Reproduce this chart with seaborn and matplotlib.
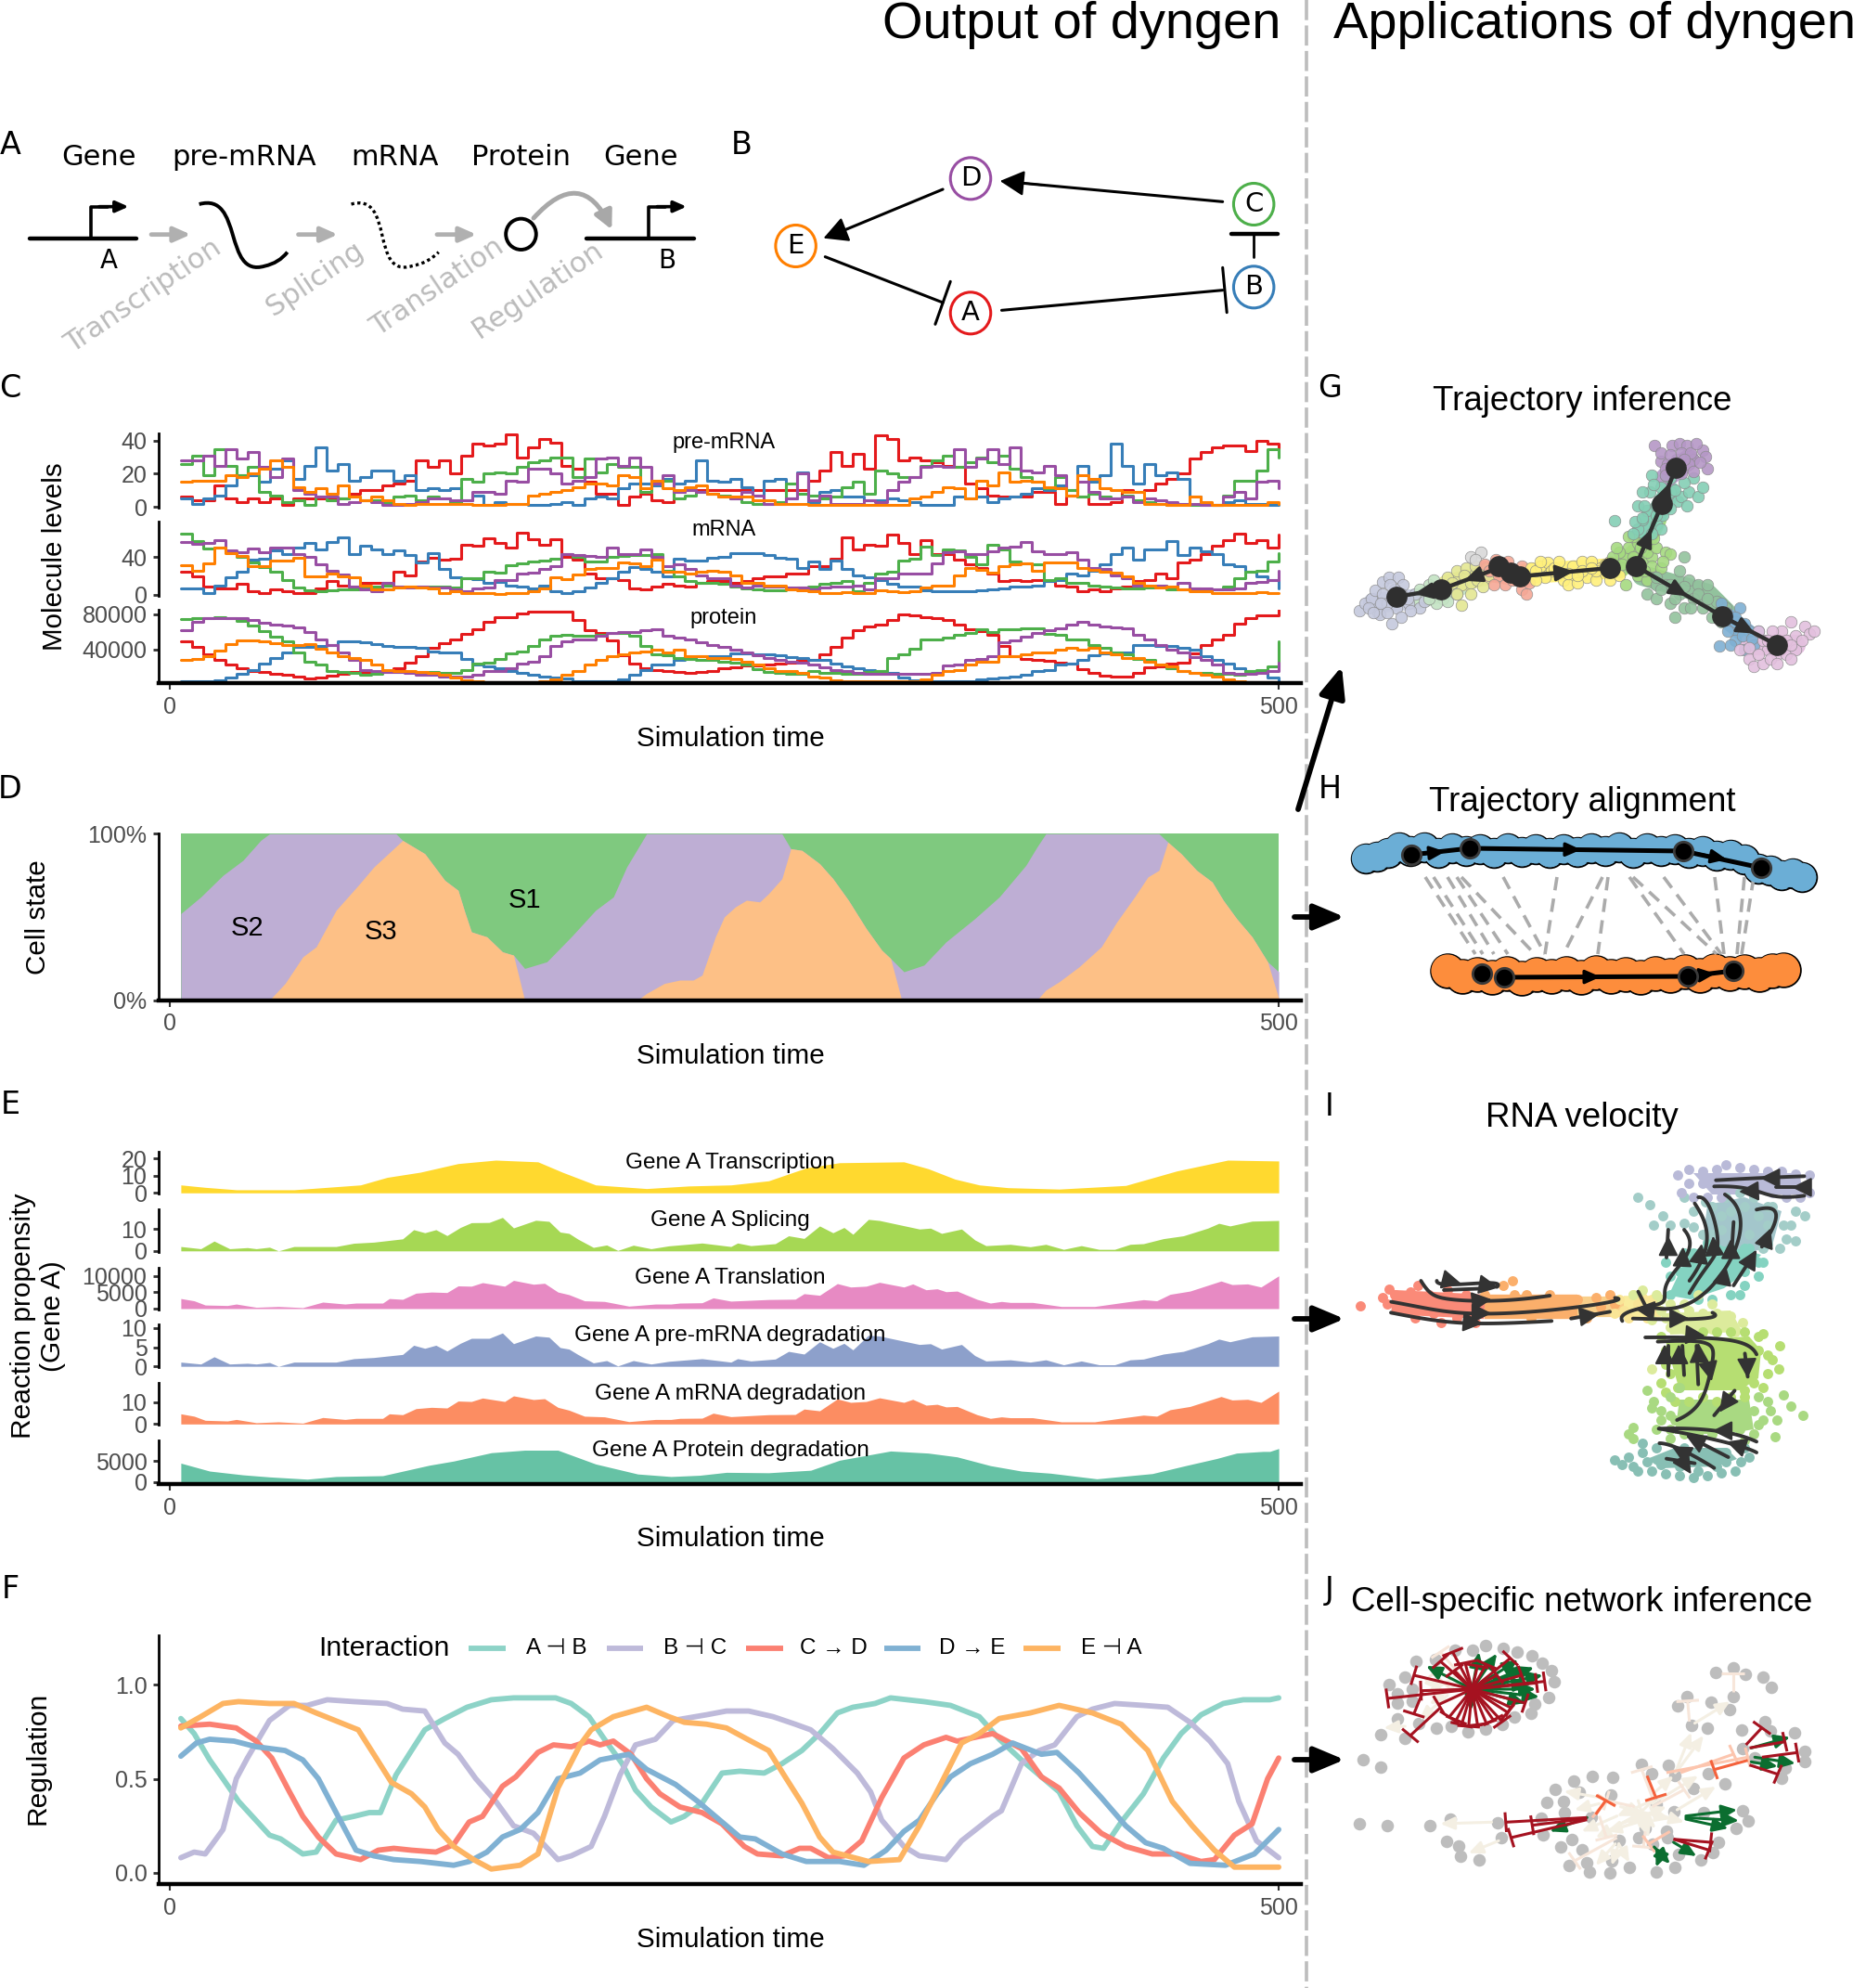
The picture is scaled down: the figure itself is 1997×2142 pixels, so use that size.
#!/usr/bin/env python3
"""Overview figure of dyngen: schematic, simulation traces and applications"""

import numpy as np
import pandas as pd
import matplotlib
matplotlib.use("Agg")
import matplotlib.pyplot as plt
from matplotlib.patches import Ellipse, PathPatch
from matplotlib.path import Path as MPath
import seaborn as sns

W, H = 1997, 2142

# ---- panel C, one value per 5 time units, gene A..E
premrna_a = [6,4,4,13,5,3,5,3,5,1,5,5,5,5,5,8,10,10,13,14,16,28,24,28,20,31,38,37,38,44,30,36,41,39,25,23,15,8,8,1,6,8,4,3,
             9,10,10,10,10,10,10,10,10,10,10,10,16,22,33,25,32,23,43,41,28,30,28,27,25,24,14,11,7,6,6,6,9,9,2,7,6,2,2,3,10,9,10,14,17,20,29,33,36,37,37,34,40,38,35]
premrna_b = [5,2,5,7,13,19,19,15,23,28,17,25,36,22,26,16,18,22,22,16,19,10,11,10,11,4,7,1,3,2,2,1,1,2,3,1,5,6,5,11,14,14,13,17,
             14,16,28,16,15,17,12,7,16,17,5,21,3,9,10,6,6,4,4,5,4,3,1,1,1,6,5,6,3,5,6,8,11,10,13,10,25,15,19,38,25,14,26,19,21,17,6,1,1,3,4,2,2,1,2]
premrna_c = [26,31,19,35,25,19,24,9,7,3,4,1,6,4,5,6,4,4,3,6,7,4,6,5,3,17,15,20,21,20,24,27,28,30,30,18,29,21,26,24,24,9,16,16,
             5,7,9,8,7,5,3,2,2,3,14,8,7,5,6,12,15,8,22,20,18,18,25,28,31,24,27,30,27,31,23,18,15,11,18,10,6,8,6,5,7,4,3,2,1,2,1,2,1,7,16,16,22,35,30]
premrna_d = [28,28,31,25,35,29,33,24,18,29,10,8,6,6,2,3,4,3,1,1,2,3,5,5,4,4,9,9,8,16,15,23,23,20,14,16,18,29,30,25,30,24,14,19,
             9,10,9,8,6,5,9,7,2,2,5,20,4,7,2,2,2,4,3,10,15,18,24,25,24,35,24,29,35,26,36,22,21,25,19,7,15,9,5,5,6,3,5,4,3,2,2,1,1,6,9,5,15,16,11]
premrna_e = [15,16,16,16,19,18,20,23,28,24,12,9,11,8,13,6,4,6,4,2,1,2,2,2,2,2,1,1,1,2,2,7,8,9,10,12,14,14,13,19,18,11,16,11,
             10,12,13,8,6,6,6,4,4,2,2,2,1,1,1,1,1,1,1,1,1,5,6,9,12,11,5,16,13,21,15,16,15,12,11,7,19,17,11,10,9,9,2,2,1,1,6,3,1,1,1,1,1,3,2]

mrna_a = [24,19,9,7,7,11,4,2,6,4,2,2,7,14,10,9,12,12,12,24,20,35,39,37,38,53,52,60,55,50,66,59,53,59,40,37,22,17,17,15,7,6,9,11,
          10,9,12,14,14,12,14,17,19,19,22,22,30,30,38,61,48,53,52,64,55,43,58,43,43,37,32,28,22,14,15,14,15,14,10,9,4,6,4,7,9,14,15,22,17,34,37,43,52,58,65,55,58,50,64]
mrna_b = [7,7,2,10,18,24,37,38,47,43,50,55,48,56,61,43,52,48,43,47,42,34,44,27,18,17,16,12,13,10,9,7,10,4,2,4,8,12,17,24,29,27,24,19,
          38,36,36,39,40,44,44,44,42,39,38,28,35,27,36,27,20,18,15,11,9,9,5,4,4,4,4,5,6,7,9,9,10,14,15,22,20,25,32,43,50,37,48,48,57,42,50,46,43,32,30,24,19,15,7]
mrna_c = [65,57,49,50,45,40,34,29,24,15,8,5,4,5,6,6,7,9,10,9,9,9,9,9,8,17,17,24,23,31,33,35,36,38,43,40,35,35,40,41,42,42,43,25,
          19,14,12,12,11,9,7,6,5,5,6,8,9,11,12,14,4,12,22,24,36,38,51,42,48,47,40,32,53,48,35,33,32,15,17,12,12,10,9,8,7,7,8,10,6,6,7,4,6,9,17,24,25,35,44]
mrna_d = [56,54,55,58,47,45,49,45,50,50,43,40,32,25,21,9,6,4,12,9,8,9,8,8,6,4,7,8,15,15,22,23,27,30,43,42,41,40,50,43,43,48,40,30,
          32,27,20,17,17,10,8,10,9,9,8,8,6,8,9,9,10,6,17,17,22,22,22,33,45,46,43,43,46,50,51,56,46,43,43,45,37,28,27,20,17,10,10,10,9,12,7,7,6,6,7,12,13,15,25]
mrna_e = [31,25,33,50,44,41,30,30,36,36,39,19,19,22,19,18,10,6,6,8,9,8,7,2,4,2,2,2,1,2,2,4,7,18,16,21,27,28,28,34,33,30,37,24,
          24,22,24,25,24,20,12,12,10,10,6,5,4,2,2,3,2,2,5,4,3,4,8,10,10,20,28,26,23,30,32,33,25,34,34,34,28,26,24,23,19,12,10,8,9,6,4,4,2,2,2,2,3,2,2]

# protein levels, in thousands
protein_a = [49,43,35,28,23,19,16,15,13,12,10,8,9,11,13,15,14,14,15,19,25,33,42,47,52,58,63,71,77,77,81,83,83,83,83,73,62,59,50,34,24,19,17,16,
             15,14,15,16,19,20,22,22,23,24,25,28,29,35,43,54,62,66,68,73,80,79,77,76,73,68,63,61,57,44,33,30,28,27,25,24,18,14,11,10,10,14,20,21,24,25,36,45,52,57,69,75,79,79,85]
protein_b = [5,5,5,6,9,13,17,24,31,37,43,43,44,45,49,49,48,46,44,43,43,42,38,37,37,30,23,21,19,16,14,12,10,9,8,5,5,5,5,7,12,17,23,23,
             28,30,33,33,33,36,36,35,35,34,32,31,29,28,24,21,19,17,16,14,9,6,6,5,5,5,5,7,8,9,10,12,16,17,23,24,29,34,36,37,37,45,45,44,44,42,40,33,28,24,19,16,15,9,5]
protein_c = [74,76,76,77,75,72,67,61,55,49,37,26,23,16,15,14,12,13,16,15,15,15,15,14,14,17,24,25,30,36,38,44,52,56,57,56,56,57,59,59,56,44,35,34,
             31,30,29,29,26,25,23,18,15,14,13,13,16,14,14,13,13,15,16,31,35,41,52,52,54,57,59,63,60,63,63,64,64,58,57,52,52,45,42,37,35,30,28,23,19,16,14,14,13,13,12,16,17,21,49]
protein_d = [62,71,75,75,75,75,73,70,68,67,65,60,52,45,37,28,17,16,15,15,14,12,12,10,10,10,12,16,16,19,24,26,33,44,49,52,52,56,59,60,60,62,63,56,
             54,52,48,45,43,40,37,34,31,29,26,25,23,20,17,16,14,13,13,13,13,13,13,14,22,23,28,30,33,48,50,55,59,62,64,68,71,68,66,65,64,57,52,45,40,37,32,28,23,14,13,13,14,16,25]
protein_e = [28,30,33,39,46,50,50,49,47,45,45,46,41,37,33,31,28,23,17,16,16,15,14,12,9,6,5,3,3,3,3,3,5,7,12,16,23,28,33,35,37,38,40,37,
             40,33,33,31,31,30,26,23,19,16,16,14,10,9,6,5,4,4,4,4,4,5,7,12,16,17,23,26,26,33,33,35,37,37,40,42,40,42,37,35,31,31,26,23,21,16,14,12,10,7,5,3,3,3,3]

gene_names = ["A", "B", "C", "D", "E"]
gene_colors = sns.color_palette("Set1", 5)

# ---- panel D, upper edge of each stacked state in percent
s3_t = [5,45,52,60,66,75,85,92,105,115,124,130,133,136,143,150,155,160,211,215,223,230,236,240,246,250,255,260,266,270,276,280,285,293,299,306,314,321,325,330,391,395,401,410,420,427,435,441,446,450,456,463,470,475,481,488,495,500]
s3_v = [0,0,10,26,32,54,69,80,96,88,72,66,53,41,38,29,27,0,0,4,10,12,12,15,38,50,56,60,59,64,73,91,90,82,73,60,43,30,25,0,0,6,11,20,32,47,62,74,78,95,88,78,71,60,49,38,23,1]
s2_t = [5,14,24,33,41,45,102,105,115,124,130,133,136,143,150,155,160,170,181,192,200,206,215,276,280,285,293,299,306,314,321,325,331,340,350,363,374,386,391,395,446,450,456,463,470,475,481,488,495,500]
s2_v = [52,62,75,84,96,100,100,96,88,72,66,53,41,38,29,27,19,23,38,54,62,80,100,100,91,90,82,73,60,43,30,25,17,21,35,49,62,81,92,100,100,95,88,78,71,60,49,38,23,17]
state_names = ["S1", "S2", "S3"]
state_colors = sns.color_palette("Accent", 3)

# ---- panel E, reaction propensities of gene A
transcription_t = [5,16,30,56,86,98,113,130,147,166,177,192,215,234,253,270,287,302,331,342,354,365,378,401,431,454,477,500]
transcription_v = [4.6,3.2,1.8,1.8,4.6,9,12,17,19,18,12,4.6,2.5,4,4.6,7,14.5,17.5,18,14,8,4.6,3,2.2,4.3,12.7,19,18.5]
splicing_t = [5,14,20,27,35,39,45,49,56,75,83,92,105,110,115,120,125,131,136,144,150,155,165,171,176,180,184,191,197,202,209,217,225,
              240,253,256,262,273,279,286,293,299,304,308,315,320,338,343,348,357,363,368,379,388,395,403,411,419,426,433,439,448,457,468,473,478,488,500]
splicing_v = [2,1,4.5,1,1.5,1,1.7,0,2,2,3.5,4,5.5,9.7,8.3,9.7,7,10.7,12.9,13,15.3,10.5,14,13.5,8.6,8,5.4,1.6,2.7,0.2,2.6,1,2.3,
              3.6,2,3.6,2.4,3.3,6.9,5.7,11.4,8.3,10.7,7.6,14.4,13.9,10,10.4,8,10,5,2.4,3,1.9,3,0.7,2.4,0.7,0.7,3,3.3,5.6,6.9,10.4,12.6,11.4,13.6,13.9]
translation_t = [5,11,16,26,30,39,49,60,69,79,84,96,99,105,111,118,125,130,136,141,151,155,164,169,175,180,187,196,207,219,226,230,240,245,253,270,282,286,293,301,307,314,320,331,335,341,346,350,355,364,370,375,379,389,402,417,431,439,445,451,460,474,479,486,492,500]
translation_v = [3100,2400,1100,950,1400,400,650,300,2000,1400,1700,1700,3100,2850,4750,5100,4950,7000,6900,8000,6900,8700,7500,7800,5100,4300,2400,2200,760,1400,1400,1700,1800,3300,2300,2800,2900,4600,4100,7700,6650,6900,8100,6650,7600,5800,6100,5200,5400,2850,1700,2200,1900,1900,650,650,2000,2750,2400,4400,5400,8500,7400,7600,6650,10100]
predeg_t = splicing_t
predeg_v = [1.1,0.6,2.5,0.6,0.8,0.6,1,0,1.1,1.1,2,2.3,3.1,5.5,4.7,5.5,4,6,7.3,7.3,8.7,5.9,7.9,7.6,4.9,4.5,3.1,0.9,1.5,0.1,1.5,0.6,1.3,
            2,1.1,2,1.4,1.9,3.9,3.2,6.4,4.7,6,4.3,8.1,7.9,5.7,5.9,4.5,5.7,2.8,1.4,1.7,1.1,1.7,0.4,1.4,0.4,0.4,1.7,1.9,3.2,3.9,5.9,7.1,6.4,7.7,7.9]
mrnadeg_t = translation_t
mrnadeg_v = [4.7,3.6,1.7,1.4,2.1,0.6,1,0.4,3,2.1,2.6,2.6,4.7,4.3,7.1,7.7,7.4,10.6,10.4,12,10.4,13,11.3,11.7,7.7,6.4,3.6,3.3,1.1,2.1,2.1,2.6,2.7,5,3.4,4.3,4.4,6.9,6.1,11.6,10,10.4,12.1,10,11.4,8.7,9.1,7.9,8.1,4.3,2.6,3.3,2.9,2.9,1,1,3,4.1,3.6,6.6,8.1,12.7,11.1,11.4,10,15.2]
proteindeg_t = [5,18,33,45,62,75,96,117,128,145,160,175,192,211,226,239,251,270,289,302,325,342,355,370,384,397,418,443,458,472,481,493,496,500]
proteindeg_v = [4500,2600,1700,1200,670,1300,1500,4000,5000,7000,7600,7600,4300,1900,1300,1600,2300,2200,2800,5200,7400,6900,6000,3900,2600,2100,750,2000,3900,5600,6900,7300,7300,8000]
reaction_names = ["Gene A Transcription", "Gene A Splicing", "Gene A Translation",
                  "Gene A pre-mRNA degradation", "Gene A mRNA degradation", "Gene A Protein degradation"]

# ---- panel F, regulation of the five interactions
ab_t = [5,11,18,24,31,45,50,60,66,75,83,90,95,102,109,115,124,134,145,155,174,181,189,196,204,210,217,226,232,240,249,257,268,276,285,293,301,308,318,325,340,352,365,374,384,393,401,409,416,421,429,439,448,456,465,475,484,496,500]
ab_v = [.82,.74,.60,.50,.38,.20,.18,.10,.11,.28,.30,.32,.32,.52,.65,.76,.82,.88,.92,.93,.93,.90,.83,.71,.58,.44,.35,.27,.30,.37,.53,.54,.53,.58,.65,.74,.85,.88,.90,.93,.91,.89,.83,.71,.60,.51,.43,.25,.14,.13,.27,.42,.61,.74,.84,.90,.92,.92,.93]
bc_t = [5,11,16,24,30,35,45,54,62,71,83,98,105,115,124,130,138,147,155,164,175,181,190,196,203,210,219,227,242,251,261,272,282,289,299,310,316,321,331,338,350,357,371,375,384,392,399,409,416,426,439,450,460,469,477,482,490,500]
bc_v = [.08,.11,.10,.23,.50,.61,.81,.89,.89,.92,.91,.90,.87,.86,.69,.63,.50,.38,.25,.21,.07,.09,.14,.30,.52,.68,.71,.81,.84,.86,.86,.83,.79,.76,.66,.53,.43,.28,.14,.09,.07,.17,.30,.33,.58,.65,.68,.83,.87,.90,.89,.88,.80,.70,.58,.38,.17,.08]
cd_t = [5,18,30,39,46,54,60,67,75,86,94,101,109,120,128,135,141,150,156,166,173,181,189,194,200,208,215,221,230,240,249,259,265,276,284,289,297,304,312,321,331,340,350,355,371,384,393,401,410,420,431,443,454,465,471,480,488,495,500]
cd_v = [.78,.79,.77,.70,.61,.43,.30,.19,.10,.07,.12,.13,.12,.11,.15,.27,.30,.46,.51,.64,.68,.67,.70,.68,.70,.63,.50,.42,.35,.32,.26,.14,.10,.09,.13,.13,.08,.09,.17,.40,.61,.68,.72,.70,.74,.66,.51,.45,.32,.21,.14,.10,.10,.06,.07,.20,.26,.50,.61]
de_t = [5,12,18,29,39,52,60,67,75,84,92,101,113,128,135,143,150,158,166,175,185,194,207,215,228,238,249,257,264,276,287,302,313,323,331,338,346,352,361,371,380,393,400,410,420,431,440,448,460,476,489,500]
de_v = [.62,.69,.71,.70,.67,.65,.60,.50,.32,.12,.09,.07,.06,.04,.06,.11,.19,.23,.32,.50,.53,.60,.63,.55,.47,.38,.27,.19,.18,.10,.06,.06,.04,.12,.22,.28,.42,.51,.58,.63,.69,.63,.64,.53,.40,.25,.16,.13,.05,.04,.10,.23]
ea_t = [5,14,24,31,45,56,66,85,92,100,109,115,121,128,137,145,158,166,175,185,190,200,215,225,232,242,251,262,270,278,285,293,299,315,329,338,348,357,365,374,388,401,416,429,441,452,461,471,480,500]
ea_v = [.77,.83,.90,.91,.90,.90,.85,.76,.63,.48,.42,.35,.23,.14,.07,.02,.04,.10,.45,.68,.76,.83,.88,.83,.80,.79,.77,.70,.65,.50,.37,.19,.11,.06,.07,.25,.48,.69,.74,.82,.85,.89,.85,.79,.65,.38,.25,.12,.03,.03]
interaction_names = ["A \u22a3 B", "B \u22a3 C", "C \u2192 D", "D \u2192 E", "E \u22a3 A"]
interaction_colors = ["#8DD3C7", "#BEBADA", "#FB8072", "#80B1D3", "#FDB462"]

# ---- panel G, cells on the trajectory embedding
g_bands = [
    ("#C8CDE0", [1480,1530], [650,645]), ("#C8E6C8", [1530,1575], [645,630]), ("#E4E793", [1560,1600], [630,620]),
    ("#F5A896", [1600,1645], [615,622]), ("#FFF07C", [1645,1745], [618,612]), ("#A5DA80", [1745,1770,1785], [612,590,560]),
    ("#84CFB5", [1772,1800], [575,530]), ("#B9A0CC", [1795,1820], [515,495]), ("#92C29D", [1770,1840,1860], [620,640,660]),
    ("#7FB0D3", [1860,1885], [665,685]), ("#E3C0DE", [1885,1935], [695,695]),
]
g_cells = [
    ("#C5C9DD", [1465,1471,1478,1482,1490,1497,1507,1512,1503,1490,1485,1487,1500,1505,1518,1530,1535,1525,1517,1495,1475,1488,1498,1510,1520,1480,1495,1510],
                [658,650,645,636,627,622,622,630,635,640,660,662,672,655,650,655,648,640,645,650,655,650,630,640,658,660,660,665]),
    ("#C4E3C4", [1540,1545,1555,1530,1560,1570,1548,1540], [630,625,645,635,648,640,650,645]),
    ("#E4E793", [1560,1570,1580,1590,1575,1585,1575,1592,1598,1605,1565,1578,1590,1602,1570,1585],
                [622,615,612,618,630,628,652,625,632,620,628,620,610,612,640,640]),
    ("#D9D9D9", [1585,1596,1590], [600,595,603]),
    ("#F5A896", [1600,1612,1625,1615,1632,1640,1622,1640,1645,1630,1610,1605,1618,1632,1648,1625,1638],
                [608,603,605,620,615,610,630,635,640,625,630,615,612,622,628,615,622]),
    ("#FFF07C", [1650,1660,1668,1672,1665,1655,1680,1685,1690,1695,1705,1715,1725,1710,1720,1735,1745,1700,1730,1740,1655,1675,1690,1705,1720,1735,1660,1680,1700,1715,1735],
                [612,610,606,615,622,625,618,625,630,610,605,605,612,622,625,625,620,628,608,610,615,612,618,615,615,615,605,605,620,612,605]),
    ("#A5DA80", [1750,1755,1745,1760,1770,1765,1775,1780,1752,1780,1765,1760,1775,1785,1795,1800,1738,1748,1758,1772,1790,1742,1755,1768,1782,1792],
                [600,590,595,600,605,620,625,600,630,610,585,578,595,590,595,597,600,608,612,615,612,590,578,590,580,605]),
    ("#84CFB5", [1740,1765,1770,1775,1785,1790,1780,1792,1778,1785,1770,1765,1795,1800,1808,1812,1820,1830,1835,1825,1815,1790,1800,1780,1772,1785,1800,1790,1762,1805,1818,1795,1782,1770,1760],
                [561,570,560,550,565,570,575,555,530,545,530,545,535,530,540,535,530,535,525,515,520,525,515,512,545,555,548,540,562,528,545,512,522,558,575]),
    ("#B597C6", [1783,1790,1797,1807,1802,1810,1818,1825,1835,1838,1840,1820,1812,1795,1825,1790,1800,1812,1822,1832,1805,1815,1795,1828],
                [480,497,500,495,480,478,480,495,485,492,505,500,510,505,508,488,490,488,488,498,505,495,512,478]),
    ("#92C29D", [1775,1785,1795,1810,1820,1830,1840,1805,1815,1825,1835,1845,1800,1785,1815,1810,1785,1800,1815,1830,1850,1860,1790,1805,1822,1840,1855],
                [640,645,630,640,625,630,630,665,655,645,655,665,650,630,600,615,622,630,632,640,648,655,635,645,655,645,670]),
    ("#7FB0D3", [1855,1875,1862,1853,1870,1880,1885,1870,1890,1860,1870,1878,1888,1895,1865,1880],
                [650,655,680,696,670,672,680,690,695,660,665,685,688,680,695,700]),
    ("#E3C0DE", [1875,1885,1890,1900,1905,1915,1925,1935,1935,1920,1910,1945,1950,1955,1930,1900,1925,1885,1895,1908,1918,1930,1942,1895,1905,1915,1930],
                [700,710,718,715,700,705,705,700,685,680,680,675,683,680,670,690,690,698,705,710,695,695,690,680,690,715,710]),
]
g_nodes_x = [1505,1553,1615,1628,1638,1735,1763,1791,1806,1856,1915]
g_nodes_y = [643,635,610,617,621,612,610,543,504,664,695]
g_edges = [(1553,635,1505,643),(1615,612,1553,635),(1638,621,1735,612),(1763,610,1791,543),
           (1791,543,1806,504),(1763,610,1856,664),(1856,664,1915,695)]

# ---- panel H, two trajectories and their alignment
h_top_x = [1472,1484,1496,1508,1520,1535,1550,1565,1580,1595,1610,1625,1640,1655,1670,1685,1700,1715,1730,1745,1760,1775,1790,1805,1820,1835,1850,1865,1880,1895,1908,1920,1932,1942]
h_top_y = [925,923,919,913,917,913,919,914,917,915,919,914,918,915,919,915,918,914,917,913,919,914,917,915,919,917,922,921,926,936,938,943,941,945]
h_bot_x = [1560,1576,1592,1608,1624,1640,1656,1672,1688,1704,1720,1736,1752,1768,1784,1800,1816,1832,1848,1864,1880,1896,1910,1922]
h_bot_y = [1046,1052,1050,1053,1049,1054,1050,1052,1049,1053,1048,1052,1050,1053,1049,1051,1047,1051,1046,1049,1047,1050,1046,1045]
h_top_nodes_x = [1521,1584,1814,1898]
h_top_nodes_y = [921,914,917,935]
h_bot_nodes_x = [1597,1621,1819,1868]
h_bot_nodes_y = [1049,1053,1052,1046]
h_links = [(1536,1590),(1545,1598),(1560,1610),(1570,1625),(1575,1654),(1620,1665),(1678,1665),(1727,1685),
           (1733,1722),(1756,1815),(1760,1850),(1793,1855),(1848,1858),(1880,1872),(1890,1877)]

# ---- panel I, cells and velocity streams
i_bands = [
    ("#FA8A78", [1500,1600], [1403,1408], 19), ("#FBAF6B", [1600,1700], [1408,1408], 19),
    ("#F9CF8A", [1700,1750], [1408,1408], 16), ("#F9EC9C", [1750,1790], [1408,1408], 17),
]
i_patches = [
    ("#A3C6CB", [1835,1840,1880,1920,1910,1885,1845], [1340,1298,1290,1305,1342,1350,1345]),
    ("#84D3C1", [1800,1820,1842,1885,1898,1880,1858,1822,1800], [1392,1350,1340,1348,1352,1372,1388,1400,1396]),
    ("#B9BAD8", [1825,1940,1942,1845], [1264,1264,1287,1287]),
    ("#DCEB9C", [1795,1865,1878,1800], [1415,1412,1435,1438]),
    ("#B6DE72", [1795,1885,1898,1895,1875,1810], [1445,1440,1455,1485,1498,1498]),
    ("#A9D982", [1810,1885,1890,1860,1805], [1508,1508,1540,1545,1545]),
    ("#88BFB4", [1775,1805,1860,1872,1850,1790], [1572,1560,1560,1572,1580,1582]),
]
i_cells = [
    ("#FA8A78", [1466,1497,1490,1495,1503,1510,1520,1528,1530,1515,1525,1535,1540,1545,1553,1560,1565,1555,1570,1580,1585,1590],
                [1407,1389,1398,1405,1395,1400,1392,1385,1400,1410,1420,1408,1395,1415,1425,1390,1405,1400,1420,1395,1410,1425]),
    ("#FBAF6B", [1600,1610,1620,1630,1632,1640,1650,1645,1660,1670,1680,1690,1700,1710,1720,1725,1735,1740],
                [1395,1400,1385,1380,1395,1410,1420,1395,1400,1395,1410,1405,1400,1420,1398,1408,1395,1405]),
    ("#F9E596", [1745,1750,1755,1740,1760,1765,1770,1775,1780,1785], [1400,1412,1420,1415,1395,1405,1398,1420,1400,1412]),
    ("#A3CDC8", [1765,1778,1792,1782,1800,1815,1825,1835,1845,1855,1865,1880,1895,1905,1925,1922,1945,1935,1905,1900,1885,1870,1855,1845,1860,1875,1890,1905,1815,1825,1838,1935,1930,1918,1910],
                [1290,1298,1310,1320,1320,1318,1322,1330,1330,1325,1305,1300,1310,1320,1335,1320,1310,1337,1340,1345,1330,1320,1310,1300,1290,1285,1290,1300,1290,1305,1295,1305,1320,1345,1300]),
    ("#84D3C1", [1880,1865,1850,1840,1825,1810,1800,1795,1820,1835,1850,1865,1880,1895,1880,1865,1855,1840,1800,1810,1825,1815,1830,1885,1900,1895,1875,1845],
                [1345,1345,1345,1360,1365,1370,1375,1360,1385,1385,1380,1375,1370,1360,1385,1395,1360,1340,1395,1385,1350,1350,1400,1345,1360,1375,1395,1400]),
    ("#B9BAD8", [1808,1820,1835,1850,1860,1875,1890,1905,1920,1935,1950,1950,1940,1925,1910,1895,1880,1865,1850,1835,1820,1812,1825,1840,1855,1920,1935],
                [1266,1260,1262,1260,1255,1258,1260,1262,1262,1265,1266,1285,1290,1290,1285,1275,1275,1275,1275,1275,1275,1285,1290,1290,1290,1275,1275]),
    ("#DCEB9C", [1760,1770,1785,1790,1800,1815,1830,1845,1850,1835,1815,1795,1780,1780,1790,1805,1820,1835,1850,1865,1878,1800,1815,1830,1845,1860,1870],
                [1395,1390,1395,1400,1405,1405,1395,1405,1420,1425,1425,1420,1422,1475,1412,1415,1412,1415,1415,1418,1425,1430,1432,1430,1432,1428,1435]),
    ("#B6DE72", [1790,1805,1820,1835,1850,1865,1880,1895,1900,1918,1905,1917,1905,1885,1870,1855,1840,1825,1810,1800,1815,1830,1845,1860,1875,1890,1880,1865,1850,1835,1820,1805,1795,1885,1895,1910,1900,1880,1795,1790,1808,1795],
                [1440,1445,1440,1435,1435,1435,1435,1440,1437,1450,1460,1475,1480,1455,1460,1465,1460,1465,1470,1480,1490,1490,1490,1490,1480,1490,1505,1505,1510,1505,1510,1510,1455,1465,1455,1465,1495,1498,1470,1490,1495,1500]),
    ("#A9D982", [1775,1782,1780,1760,1755,1760,1800,1815,1830,1845,1860,1875,1890,1900,1908,1922,1930,1943,1913,1890,1875,1860,1845,1830,1815,1800,1785,1800,1810,1790,1895,1905,1915,1895,1805,1790,1800,1880],
                [1498,1510,1517,1538,1545,1550,1525,1520,1530,1530,1525,1520,1520,1530,1520,1503,1515,1525,1548,1545,1540,1540,1545,1545,1545,1540,1540,1505,1495,1520,1505,1510,1530,1535,1530,1530,1550,1552]),
    ("#88BFB4", [1740,1755,1770,1785,1775,1760,1748,1800,1815,1830,1845,1860,1875,1860,1876,1790,1810,1830,1850,1765,1780,1795,1810,1825,1840,1855,1870,1885,1880,1770],
                [1573,1570,1565,1560,1575,1580,1578,1570,1560,1575,1570,1565,1560,1575,1575,1578,1580,1585,1580,1585,1585,1588,1590,1592,1590,1587,1585,1570,1560,1555]),
]
i_streams = [
    ([260,400,520,700,850,895],[668,695,708,695,675,655]),
    ([260,400,530,715],[703,730,738,730]),
    ([345,380,430,530,710],[600,645,660,665,648]),
    ([390,440,530,560],[600,612,607,620]),
    ([410,520],[630,625]),
    ([770,880],[722,700]),
    ([1180,1300,1430],[275,268,262]),
    ([1175,1280,1340,1430],[295,305,325,325]),
    ([1350,1430],[298,298]),
    ([1130,1170,1185,1170,1105],[330,385,470,530,640]),
    ([1120,1150,1150,1105],[350,420,500,600]),
    ([1205,1245,1250,1220,1180,1140,1060,990],[320,380,450,520,600,660,682,685]),
    ([1230,1225],[410,500]),
    ([1295,1350,1310],[370,385,490]),
    ([1230,1290],[615,510]),
    ([1090,1090,1045,1035,1000],[435,530,600,650,680]),
    ([1045,1040],[435,525]),
    ([915,925,985],[730,705,685]),
    ([960,980],[635,680]),
    ([945,1140,1170],[722,722,703]),
    ([980,1150,1250,1295],[783,785,800,838]),
    ([1015,1150,1170,1165,1140,1070],[797,800,840,900,980,1050]),
    ([1045,1045],[905,810]),
    ([1090,1085],[905,810]),
    ([1130,1125],[935,810]),
    ([1262,1270],[835,910]),
    ([1233,1175],[955,1035]),
    ([1295,1180,1018],[1120,1085,1078]),
    ([1295,1200,1020],[1155,1120,1078]),
    ([1215,1130],[1170,1120]),
    ([1175,1080,1020],[1205,1145,1125]),
    ([1040,1120],[1175,1190]),
]
i_heads = [(490,735,520,738),(510,705,545,705),(510,665,545,660),(425,600,460,610),(530,615,565,622),(805,715,850,708),
           (1345,268,1305,268),(1285,310,1245,312),(1430,298,1395,298),(1175,500,1172,455),(1135,515,1140,480),(1200,595,1208,550),
           (1222,505,1222,465),(1320,475,1335,430),(1275,540,1295,500),(1085,540,1087,490),(1045,505,1045,455),(990,695,950,690),
           (1060,722,1105,722),(1110,775,1150,778),(1160,880,1168,925),(1035,855,1035,805),(1075,855,1075,805),(1132,850,1130,800),
           (1268,865,1270,915),(1215,985,1190,1025),(1215,1085,1170,1085),(1250,1135,1210,1120),(1130,1120,1095,1100),
           (1095,1160,1055,1135),(1085,1180,1110,1225)]

# ---- panel J, regulatory edges per cell
j_cells_x = [332,385,440,490,527,578,618,658,688,715,722,707,668,657,610,575,527,478,432,390,340,300,230,278,255,278,300,278,320,320,
             182,230,172,250,370,428,417,452,457,510,562,573,690,685,740,772,800,764,822,880,935,815,885,1012,1065,1137,1172,1187,1075,1042,
             1237,1270,1255,1145,1060,725,777,830,888,793,748,700,752,882,828,905,1010,970,998,1045,1065,1115,1157,1205,1255,1290,1253,1318,
             1335,1403,1432,1432,1375,1367,1110,1155,1072,1098,1165,1218,1228,1178,1228,1263,1312,1337,980,1040,1000,960,490]
j_cells_y = [330,325,295,295,280,287,300,312,335,360,395,447,467,497,510,535,548,558,540,547,530,580,568,515,405,435,380,465,420,460,
             648,672,855,862,862,840,912,928,960,972,853,900,890,838,930,905,938,990,1010,1015,997,980,975,1010,997,972,948,915,955,900,
             870,845,812,820,815,745,718,702,706,752,782,785,818,762,835,908,793,662,692,667,700,742,692,725,612,642,552,525,
             555,560,620,655,675,707,537,545,475,443,462,485,445,365,352,373,382,415,870,880,920,900,420]
j_pale_arrows = [(1065,690,1110,560),(1070,685,1145,570),(1120,530,1220,460),(545,850,400,855),(565,910,480,950),(895,920,840,990),
                 (905,920,885,990),(905,920,935,980),(1070,810,1180,735),(1000,790,1130,700),(850,770,750,750),(850,790,780,810),
                 (900,830,800,880),(950,830,840,900),(1000,760,1060,700),(300,540,240,545),(400,400,350,400),(960,850,870,880),
                 (1000,820,1090,850),(1000,780,900,830),(940,790,1010,870),(910,800,1050,840),(900,860,1040,800),(960,780,990,900),
                 (1010,770,930,860),(880,880,1000,830),(450,400,370,470),(420,440,340,520),(440,380,360,440)]
j_pale_bars = [(1228,430,1228,370),(1105,525,1100,458),(1000,770,970,680),(900,900,780,975),(1000,800,1090,745),(950,800,870,780),
               (980,880,975,930),(850,830,870,900),(430,420,380,370),(490,420,400,300)]
j_pink_bars = [(1080,690,1230,630),(1040,690,1270,640),(830,835,870,780),(1050,880,990,920)]
j_orange_bars = [(1270,650,1175,680),(840,825,868,780),(985,700,1010,770)]
j_red_bars = [(490,420,250,450),(490,420,345,425),(490,420,325,375),(490,420,400,330),(490,420,435,300),(490,420,470,335),(490,420,530,340),
              (490,420,598,320),(490,420,630,375),(490,420,695,395),(490,420,672,400),(490,420,640,465),(490,420,600,480),(490,420,575,525),
              (490,420,530,530),(490,420,480,540),(490,420,425,510),(490,420,395,470),(400,480,315,570),(350,430,325,500),
              (490,420,445,520),(490,420,460,535),(490,420,505,535),(490,420,550,520),(490,420,590,495),(490,420,440,360),(490,420,505,345),
              (490,420,560,375),(815,835,585,850),(815,838,660,860),(815,842,600,900),(1275,610,1375,590),(1310,640,1410,625),(1275,665,1355,695),
              (1265,600,1310,545),(1060,905,1165,915),(1060,905,1160,940)]
j_green_arrows = [(490,420,360,345),(490,420,510,300),(490,420,560,305),(490,420,620,325),(490,420,665,350),(490,420,690,375),
                  (490,420,680,445),(490,420,640,465),(490,420,485,490),(490,420,600,390),(490,420,650,400),(490,420,670,420),(490,420,640,350),
                  (815,835,710,880),(1280,610,1390,575),
                  (1280,655,1355,670),(1290,640,1405,660),(1095,830,1240,810),(1095,835,1245,845),(1095,840,1215,870),
                  (1060,915,1125,960),(1005,930,1050,985),(1030,940,1010,995)]

# ---- figure
sns.set_theme(style="ticks")
plt.rcParams["font.family"] = ["Liberation Sans", "DejaVu Sans"]
plt.rcParams["text.color"] = "black"
fig = plt.figure(figsize=(W / 100, H / 100), dpi=100, facecolor="white")

TICK_COLOR = "#4D4D4D"
TIME_LIM = (-5, 510)


def px_axes(top, bottom, left=171, right=1402):
    return fig.add_axes([left / W, 1 - bottom / H, (right - left) / W, (bottom - top) / H])


def sketch_axes(left, top, width, height, sx, sy):
    # axes measured in its own sketch units, no visible scale
    ax = fig.add_axes([left / W, 1 - (top + height) / H, width / W, height / H], zorder=6)
    ax.set_xlim(0, sx)
    ax.set_ylim(sy, 0)
    ax.set_axis_off()
    ax.patch.set_alpha(0)
    return ax


def style_axes(ax, yticks, ylabels=None, show_x=False):
    ax.set_xlim(*TIME_LIM)
    ax.set_yticks(yticks)
    ax.set_yticklabels(ylabels if ylabels else [str(v) for v in yticks])
    ax.set_xlabel("")
    ax.set_ylabel("")
    ax.patch.set_alpha(0)
    ax.tick_params(axis="y", labelsize=18, labelcolor=TICK_COLOR, color="#333333",
                   width=2, length=4.5, pad=4.5)
    sns.despine(ax=ax)
    ax.spines["left"].set_linewidth(2)
    ax.spines["left"].set_color("black")
    if show_x:
        ax.set_xticks([0, 500])
        ax.set_xticklabels(["0", "500"])
        ax.tick_params(axis="x", labelsize=18, labelcolor=TICK_COLOR, color="#333333",
                       width=1.5, length=5, pad=5)
        ax.spines["bottom"].set_linewidth(3.2)
        ax.spines["bottom"].set_color("black")
    else:
        ax.set_xticks([])
        ax.spines["bottom"].set_visible(False)


def draw_levels(ax, series):
    frames = []
    for name, values in zip(gene_names, series):
        frames.append(pd.DataFrame({"time": np.linspace(5, 500, len(values)), "level": values, "gene": name}))
    df = pd.concat(frames, ignore_index=True)
    sns.lineplot(data=df, x="time", y="level", hue="gene", hue_order=gene_names, palette=gene_colors,
                 estimator=None, sort=False, drawstyle="steps-post", linewidth=2.2, legend=False, ax=ax)


# panel C
ax_pre = px_axes(467, 547.5)
draw_levels(ax_pre, [premrna_a, premrna_b, premrna_c, premrna_d, premrna_e])
ax_pre.set_ylim(-0.8, 44.4)
style_axes(ax_pre, [0, 20, 40])

ax_mrna = px_axes(562, 642)
draw_levels(ax_mrna, [mrna_a, mrna_b, mrna_c, mrna_d, mrna_e])
ax_mrna.set_ylim(-1.3, 77.4)
style_axes(ax_mrna, [0, 40])

ax_prot = px_axes(657, 736)
draw_levels(ax_prot, [np.array(s) * 1000 for s in [protein_a, protein_b, protein_c, protein_d, protein_e]])
ax_prot.set_ylim(2400, 84900)
style_axes(ax_prot, [40000, 80000], show_x=True)

# panel D
ax_state = px_axes(898.3, 1077.5)
ax_state.fill_between([5, 500], 0, 100, color=state_colors[0], linewidth=0)
ax_state.fill_between(s2_t, 0, s2_v, color=state_colors[1], linewidth=0)
ax_state.fill_between(s3_t, 0, s3_v, color=state_colors[2], linewidth=0)
ax_state.set_ylim(0, 100)
style_axes(ax_state, [0, 100], ["0%", "100%"], show_x=True)
for name, t, v in zip(state_names, [160, 35, 95], [60, 43, 41]):
    ax_state.text(t, v, name, ha="center", va="center", fontsize=21, color="black")

# panel E
set2 = sns.color_palette("Set2", 6)
reaction_rows = [
    (1240.7, 1286, (-0.4, 24), [0, 10, 20], transcription_t, transcription_v, set2[5]),
    (1303, 1348.5, (-0.3, 19), [0, 10], splicing_t, splicing_v, set2[4]),
    (1365.7, 1411, (-300, 12660), [0, 5000, 10000], translation_t, translation_v, set2[3]),
    (1426.7, 1473, (-0.2, 11), [0, 5, 10], predeg_t, predeg_v, set2[2]),
    (1490, 1535, (-0.3, 19), [0, 10], mrnadeg_t, mrnadeg_v, set2[1]),
    (1551.7, 1599, (-500, 10000), [0, 5000], proteindeg_t, proteindeg_v, set2[0]),
]
for i, (top, bottom, ylim, ticks, xs, ys, col) in enumerate(reaction_rows):
    ax = px_axes(top, bottom)
    ax.fill_between(xs, 0, ys, color=col, linewidth=0)
    ax.set_ylim(*ylim)
    style_axes(ax, ticks, show_x=(i == 5))

# panel F
ax_reg = px_axes(1761.7, 2030)
reg_frames = []
for name, t, v in zip(interaction_names, [ab_t, bc_t, cd_t, de_t, ea_t], [ab_v, bc_v, cd_v, de_v, ea_v]):
    reg_frames.append(pd.DataFrame({"time": t, "regulation": v, "interaction": name}))
sns.lineplot(data=pd.concat(reg_frames, ignore_index=True), x="time", y="regulation", hue="interaction",
             hue_order=interaction_names, palette=interaction_colors, estimator=None, sort=False,
             linewidth=4.2, legend=False, ax=ax_reg)
ax_reg.set_ylim(-0.06, 1.264)
style_axes(ax_reg, [0, 0.5, 1.0], ["0.0", "0.5", "1.0"], show_x=True)

# overlay in figure pixels for labels and cartoons
ov = fig.add_axes([0, 0, 1, 1], zorder=5)
ov.patch.set_alpha(0)
ov.set_axis_off()


def arrow(ax, x0, y0, x1, y1, color="black", lw=3, scale=14, head=(0.9, 0.4), zorder=6):
    ax.annotate("", xy=(x1, y1), xytext=(x0, y0), zorder=zorder,
                arrowprops=dict(arrowstyle=f"-|>,head_length={head[0]},head_width={head[1]}", color=color,
                                lw=lw, mutation_scale=scale, shrinkA=0, shrinkB=0))


def tbar(ax, x0, y0, x1, y1, color, lw=2.2, half=32, zorder=4):
    ax.plot([x0, x1], [y0, y1], color=color, lw=lw, solid_capstyle="butt", zorder=zorder)
    dx, dy = x1 - x0, y1 - y0
    norm = np.hypot(dx, dy) or 1
    ax.plot([x1 - dy / norm * half, x1 + dy / norm * half], [y1 + dx / norm * half, y1 - dx / norm * half],
            color=color, lw=lw, solid_capstyle="butt", zorder=zorder)


# dashed separator
ov.plot([1408.5, 1408.5], [0, H], color="#BDBDBD", lw=2.6, dashes=(6, 1.6))

# titles, labels
ov.text(1380, 27, "Output of dyngen", ha="right", va="center", fontsize=40.3)
ov.text(1437, 27, "Applications of dyngen", ha="left", va="center", fontsize=40.3)
for letter, x, y in [("A", 11, 156), ("B", 799, 156), ("C", 11, 418), ("D", 11, 850), ("E", 11, 1191), ("F", 11, 1713),
                     ("G", 1433, 418), ("H", 1433, 850), ("I", 1433, 1192), ("J", 1433, 1713)]:
    ov.text(x, y, letter, ha="center", va="center", fontsize=24, family="DejaVu Sans")
for title, y in [("Trajectory inference", 432), ("Trajectory alignment", 864), ("RNA velocity", 1205),
                 ("Cell-specific network inference", 1726)]:
    ov.text(1705, y, title, ha="center", va="center", fontsize=26.4)
for y in [796, 1138, 1658, 2090]:
    ov.text(787, y, "Simulation time", ha="center", va="center", fontsize=21.3)
ov.text(59, 600, "Molecule levels", rotation=90, ha="center", va="center", fontsize=21.3)
ov.text(41, 988, "Cell state", rotation=90, ha="center", va="center", fontsize=21.3)
ov.text(41, 1894, "Regulation", rotation=90, ha="center", va="center", fontsize=21.5)
ov.text(41, 1418, "Reaction propensity\n(Gene A)", rotation=90, ha="center", va="center", fontsize=21.5, linespacing=1.2)
for label, y in [("pre-mRNA", 477), ("mRNA", 571), ("protein", 666)]:
    ov.text(780, y, label, ha="center", va="center", fontsize=17)
for label, y in zip(reaction_names, [1253, 1315, 1377, 1439, 1502, 1563]):
    ov.text(787, y, label, ha="center", va="center", fontsize=17.6)

# interaction legend
ov.text(343, 1776, "Interaction", ha="left", va="center", fontsize=21.8)
for label, color, k0, k1, lx in zip(interaction_names, interaction_colors,
                                    [505, 654, 804, 953, 1103], [545, 693, 844, 992, 1143],
                                    [600, 749, 898, 1048, 1198]):
    ov.plot([k0, k1], [1776, 1776], color=color, lw=4.2, solid_capstyle="butt")
    ov.text(lx, 1776, label, ha="center", va="center", fontsize=17.5)

# arrows from output to applications
for y in [988, 1421, 1896]:
    arrow(ov, 1395, y, 1449, y, lw=4.2, scale=20, head=(1.0, 0.42))
arrow(ov, 1399, 872, 1446, 718, lw=4.2, scale=20, head=(1.0, 0.42))

# panel G
for color, xs, ys in g_bands:
    ov.plot(xs, ys, color=color, lw=16, zorder=0.5, solid_capstyle="round")
for color, xs, ys in g_cells:
    sns.scatterplot(x=xs, y=ys, color=color, s=82, edgecolor="#8A8A8A", linewidth=0.5, alpha=0.9, legend=False, ax=ov)
for x0, y0, x1, y1 in g_edges:
    ov.plot([x0, x1], [y0, y1], color="#2F2F2F", lw=3.2, zorder=6)
    arrow(ov, x0, y0, (x0 + x1) / 2 + (x1 - x0) * 0.1, (y0 + y1) / 2 + (y1 - y0) * 0.1, color="#2F2F2F", lw=2.4, scale=13)
ov.scatter(g_nodes_x, g_nodes_y, s=235, color="#2F2F2F", zorder=7)

# panel H
for (xs, ys, col, size) in [(h_top_x, h_top_y, "#6BAED6", 520), (h_bot_x, h_bot_y, "#FD8D3C", 700)]:
    sns.scatterplot(x=xs, y=ys, color=col, s=size, edgecolor="black", linewidth=1.3, legend=False, ax=ov)
    ov.plot(xs, ys, color=col, lw=14, zorder=3, solid_capstyle="round")
    sns.scatterplot(x=xs, y=ys, color=col, s=size * 0.92, edgecolor="none", linewidth=0, legend=False, ax=ov, zorder=3)
for x0, x1 in h_links:
    ov.plot([x0, x1], [945, 1028], color="#ABABAB", lw=2.6, dashes=(4, 2.5), zorder=2)
ov.plot(h_top_nodes_x, h_top_nodes_y, color="black", lw=3.6, zorder=6)
ov.plot(h_bot_nodes_x[1:], h_bot_nodes_y[1:], color="black", lw=3.6, zorder=6)
for xs, ys in [(h_top_nodes_x, h_top_nodes_y), (h_bot_nodes_x[1:], h_bot_nodes_y[1:])]:
    for a in range(len(xs) - 1):
        arrow(ov, xs[a], ys[a], (xs[a] + xs[a + 1]) / 2 + 5, (ys[a] + ys[a + 1]) / 2, lw=2.4, scale=11)
ov.scatter(h_top_nodes_x + h_bot_nodes_x, h_top_nodes_y + h_bot_nodes_y, s=215, color="black",
           edgecolor="#3A3A3A", linewidth=2, zorder=7)

# panel I cells
for color, xs, ys, width in i_bands:
    ov.plot(xs, ys, color=color, lw=width, zorder=0.5, solid_capstyle="butt")
for color, xs, ys in i_patches:
    ov.fill(xs, ys, color=color, linewidth=0, zorder=0.5)
for color, xs, ys in i_cells:
    sns.scatterplot(x=xs, y=ys, color=color, s=62, linewidth=0, legend=False, ax=ov)

ov.set_xlim(0, W)
ov.set_ylim(H, 0)

# panel I streams
ax_i = sketch_axes(1400, 1180, 597, 460, 1568, 1380)
for xs, ys in i_streams:
    if len(xs) > 2:
        tt = np.arange(len(xs))
        fine = np.linspace(0, len(xs) - 1, 60)
        cx = np.polyval(np.polyfit(tt, xs, min(len(xs) - 1, 4)), fine)
        cy = np.polyval(np.polyfit(tt, ys, min(len(xs) - 1, 4)), fine)
        ax_i.plot(cx, cy, color="#333333", lw=2.8)
    else:
        ax_i.plot(xs, ys, color="#333333", lw=2.8)
for x0, y0, x1, y1 in i_heads:
    arrow(ax_i, x0, y0, x1, y1, color="#333333", lw=1.6, scale=13, head=(1.0, 0.5))

# panel J
ax_j = sketch_axes(1400, 1680, 597, 462, 1568, 1386)
sns.scatterplot(x=j_cells_x, y=j_cells_y, color="#BDBDBD", s=95, linewidth=0, legend=False, ax=ax_j)
for edge in j_pale_arrows:
    arrow(ax_j, *edge, color="#F4EFE3", lw=2.2, scale=10, zorder=3)
for edge in j_pale_bars:
    tbar(ax_j, *edge, color="#F7E6DA", zorder=3)
for edge in j_pink_bars:
    tbar(ax_j, *edge, color="#FCC5AE", zorder=4)
for edge in j_orange_bars:
    tbar(ax_j, *edge, color="#F4623C", zorder=5)
for edge in j_green_arrows:
    arrow(ax_j, *edge, color="#0B6E30", lw=2.2, scale=11, zorder=6)
for edge in j_red_bars:
    tbar(ax_j, *edge, color="#A51220", zorder=7)
ax_j.set_xlim(0, 1568)
ax_j.set_ylim(1386, 0)

# panels A and B, measured in the same sketch units
ax_ab = sketch_axes(0, 120, 1420, 280, 1568, 840)
for name, x in zip(["Gene", "pre-mRNA", "mRNA", "Protein", "Gene"], [118, 290, 470, 620, 762]):
    ax_ab.text(x, 150, name, ha="center", va="center", fontsize=22, family="DejaVu Sans")
for x0, x1, xr, label in [(35, 162, 108, "A"), (698, 826, 772, "B")]:
    ax_ab.plot([x0, x1], [412, 412], color="black", lw=3.2)
    ax_ab.plot([xr, xr, xr + 20], [412, 308, 308], color="black", lw=2.6)
    arrow(ax_ab, xr + 10, 308, xr + 45, 308, lw=2.6, scale=9)
    ax_ab.text(xr + 22, 484, label, ha="center", va="center", fontsize=20, family="DejaVu Sans")
curve_a = MPath([(237, 300), (290, 260), (265, 540), (315, 500), (332, 490), (342, 455)],
                [MPath.MOVETO, MPath.CURVE4, MPath.CURVE4, MPath.CURVE4, MPath.CURVE3, MPath.CURVE3])
ax_ab.add_patch(PathPatch(curve_a, fill=False, color="black", lw=2.8))
curve_b = MPath([(418, 300), (470, 260), (440, 540), (490, 500), (510, 490), (522, 455)],
                [MPath.MOVETO, MPath.CURVE4, MPath.CURVE4, MPath.CURVE4, MPath.CURVE3, MPath.CURVE3])
ax_ab.add_patch(PathPatch(curve_b, fill=False, color="black", lw=2.4, linestyle=(0, (1, 1))))
ax_ab.add_patch(Ellipse((620, 397), 36, 100, fill=False, edgecolor="black", lw=2.8))
for x0 in [180, 355, 520]:
    arrow(ax_ab, x0, 398, x0 + 47, 398, color="#B0B0B0", lw=3.4, scale=12)
ax_ab.annotate("", xy=(728, 382), xytext=(635, 345), zorder=5,
               arrowprops=dict(arrowstyle="-|>,head_length=0.9,head_width=0.45", color="#A8A8A8", lw=3.6,
                               mutation_scale=13, connectionstyle="arc3,rad=-0.75", shrinkA=0, shrinkB=0))
for word, x, y in [("Transcription", 170, 598), ("Splicing", 375, 543), ("Translation", 520, 568), ("Regulation", 640, 578)]:
    ax_ab.text(x, y, word, rotation=34, ha="center", va="center", fontsize=22, color="#BBBBBB", family="DejaVu Sans")

node_pos = {"A": (1155, 652), "B": (1492, 568), "C": (1492, 300), "D": (1155, 217), "E": (947, 435)}
for (name, (x, y)), color in zip(node_pos.items(), gene_colors):
    ax_ab.add_patch(Ellipse((x, y), 48, 135, facecolor="white", edgecolor=color, lw=2.2))
    ax_ab.text(x, y, name, ha="center", va="center", fontsize=21, family="DejaVu Sans")
ax_ab.plot([1455, 1205], [292, 229], color="black", lw=2.2)
arrow(ax_ab, 1240, 238, 1190, 225, lw=1.6, scale=17, head=(0.95, 0.5))
ax_ab.plot([1122, 995], [252, 395], color="black", lw=2.2)
arrow(ax_ab, 1010, 378, 980, 410, lw=1.6, scale=17, head=(0.95, 0.5))
ax_ab.plot([982, 1122], [470, 618], color="black", lw=2.2)
ax_ab.plot([1131, 1113], [550, 688], color="black", lw=2.2)
ax_ab.plot([1192, 1455], [643, 578], color="black", lw=2.2)
ax_ab.plot([1455, 1460], [505, 650], color="black", lw=2.2)
ax_ab.plot([1492, 1492], [472, 398], color="black", lw=2)
ax_ab.plot([1465, 1520], [396, 396], color="black", lw=3.2)
ax_ab.set_xlim(0, 1568)
ax_ab.set_ylim(840, 0)

fig.savefig("out.png", dpi=100, facecolor="white")
